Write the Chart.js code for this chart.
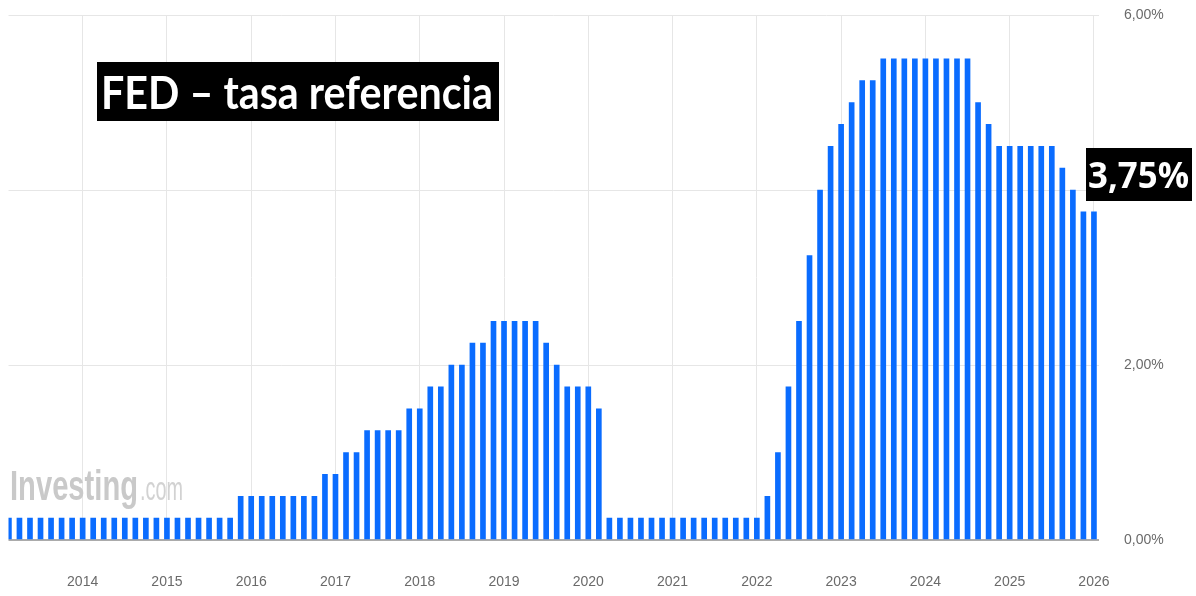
<!DOCTYPE html>
<html><head><meta charset="utf-8">
<script src="https://cdn.jsdelivr.net/npm/chart.js@4"></script>
<style>html,body{margin:0;padding:0;background:#fff}#wrap{position:relative;width:1196px;height:596px}</style>
</head><body><div id="wrap"><canvas id="c" width="1196" height="596"></canvas></div>
<script>
// ---- data ----
const chartTitle = 'FED – tasa referencia';
const lastLabel = '3,75%';
const watermarkMain = 'Investing';
const watermarkTail = '.com';
// FOMC meeting slots: 8 per year, first slot = March 2013 meeting
const firstSlotYear = 2013.125;
const slotsPerYear = 8;
const rates = [
  // Mar 2013 – Oct 2015
  0.25, 0.25, 0.25, 0.25, 0.25, 0.25, 0.25, 0.25, 0.25, 0.25, 0.25,
  0.25, 0.25, 0.25, 0.25, 0.25, 0.25, 0.25, 0.25, 0.25, 0.25, 0.25,
  // Dec 2015 – Nov 2016
  0.5, 0.5, 0.5, 0.5, 0.5, 0.5, 0.5, 0.5,
  // Dec 2016 – Mar 2020
  0.75, 0.75, 1.0, 1.0, 1.25, 1.25, 1.25, 1.25, 1.5, 1.5, 1.75, 1.75,
  2.0, 2.0, 2.25, 2.25, 2.5, 2.5, 2.5, 2.5, 2.5, 2.25, 2.0, 1.75, 1.75, 1.75, 1.5,
  // 2020 – Jan 2022
  0.25, 0.25, 0.25, 0.25, 0.25, 0.25, 0.25, 0.25, 0.25, 0.25, 0.25, 0.25, 0.25, 0.25, 0.25,
  // Mar 2022 – Jun 2023
  0.5, 1.0, 1.75, 2.5, 3.25, 4.0, 4.5, 4.75, 5.0, 5.25, 5.25,
  // Jul 2023 – Jul 2024
  5.5, 5.5, 5.5, 5.5, 5.5, 5.5, 5.5, 5.5, 5.5,
  // Sep 2024 – Jan 2026
  5.0, 4.75, 4.5, 4.5, 4.5, 4.5, 4.5, 4.5, 4.25, 4.0, 3.75, 3.75
];
const yearTicks = [2014, 2015, 2016, 2017, 2018, 2019, 2020, 2021, 2022, 2023, 2024, 2025, 2026];
const rateTicks = [0, 2, 4, 6];

const points = rates.map((v, i) => ({ x: firstSlotYear + i / slotsPerYear, y: v }));

function setFont(ctx, text, weight, family, size) {
  ctx.font = weight + ' ' + size + 'px ' + family;
  return ctx.measureText(text).width;
}

const overlay = {
  id: 'overlay',
  beforeDatasetsDraw(chart) {
    const ctx = chart.ctx;
    ctx.save();
    const base = 500;
    ctx.textBaseline = 'alphabetic';
    ctx.textAlign = 'left';
    const fam = "'Liberation Sans Narrow', 'Liberation Sans', Arial, sans-serif";
    let w = setFont(ctx, watermarkMain, 'bold', fam, 43);
    ctx.save();
    ctx.translate(10, base);
    ctx.scale(128 / w, 1);
    ctx.fillStyle = '#c9c9c9';
    ctx.fillText(watermarkMain, 0, 0);
    ctx.restore();
    w = setFont(ctx, watermarkTail, 'normal', fam, 34);
    ctx.save();
    ctx.translate(140, base);
    ctx.scale(43 / w, 1);
    ctx.fillStyle = '#d2d2d2';
    ctx.fillText(watermarkTail, 0, 0);
    ctx.restore();
    ctx.restore();
  },
  afterDraw(chart) {
    const ctx = chart.ctx;
    ctx.save();
    ctx.textAlign = 'left';
    ctx.textBaseline = 'alphabetic';
    const tFam = "Lato, 'Open Sans', sans-serif";
    let w = setFont(ctx, chartTitle, 'bold', tFam, 46);
    ctx.fillStyle = '#000';
    ctx.fillRect(97, 62, 402, 59);
    ctx.save();
    ctx.translate(101, 108.5);
    ctx.scale(392 / w, 1);
    ctx.fillStyle = '#fff';
    ctx.fillText(chartTitle, 0, 0);
    ctx.restore();
    const lFam = "'Open Sans', sans-serif";
    w = setFont(ctx, lastLabel, 'bold', lFam, 36);
    ctx.fillStyle = '#000';
    ctx.fillRect(1086, 148, 106, 53);
    ctx.save();
    ctx.translate(1088, 188);
    ctx.scale(101 / w, 1);
    ctx.fillStyle = '#fff';
    ctx.fillText(lastLabel, 0, 0);
    ctx.restore();
    ctx.restore();
  }
};

new Chart(document.getElementById('c'), {
  type: 'bar',
  data: { datasets: [{ data: points, backgroundColor: '#0a6cff', barThickness: 5, clip: 0 }] },
  options: {
    responsive: false,
    animation: false,
    layout: { autoPadding: false, padding: { left: 8.5, top: 15, right: 0, bottom: 0 } },
    plugins: { legend: { display: false }, tooltip: { enabled: false } },
    scales: {
      x: {
        type: 'linear', min: 2013.12, max: 2026.06, offset: false,
        grid: { color: '#e6e6e6', drawTicks: false, offset: false },
        border: { display: false },
        afterBuildTicks: s => { s.ticks = yearTicks.map(v => ({ value: v })); },
        ticks: { callback: v => String(v), font: { family: "'Liberation Sans', Arial, sans-serif", size: 14 }, color: '#6a6a6a', padding: 34, maxRotation: 0, autoSkip: false },
        afterFit: s => { s.height = 56; }
      },
      y: {
        position: 'right', min: 0, max: 6,
        afterBuildTicks: s => { s.ticks = rateTicks.map(v => ({ value: v })); },
        grid: {
          color: c => (c.tick && c.tick.value === 0) ? '#ababab' : '#e6e6e6',
          lineWidth: c => (c.tick && c.tick.value === 0) ? 2 : 1,
          drawTicks: false
        },
        border: { display: false },
        ticks: { callback: v => v.toFixed(2).replace('.', ',') + '%', font: { family: "'Liberation Sans', Arial, sans-serif", size: 14 }, color: '#6a6a6a', padding: 25 },
        afterFit: s => { s.width = 97; s.paddingTop = 0; s.paddingBottom = 0; }
      }
    }
  },
  plugins: [overlay]
});
</script>
</body></html>
